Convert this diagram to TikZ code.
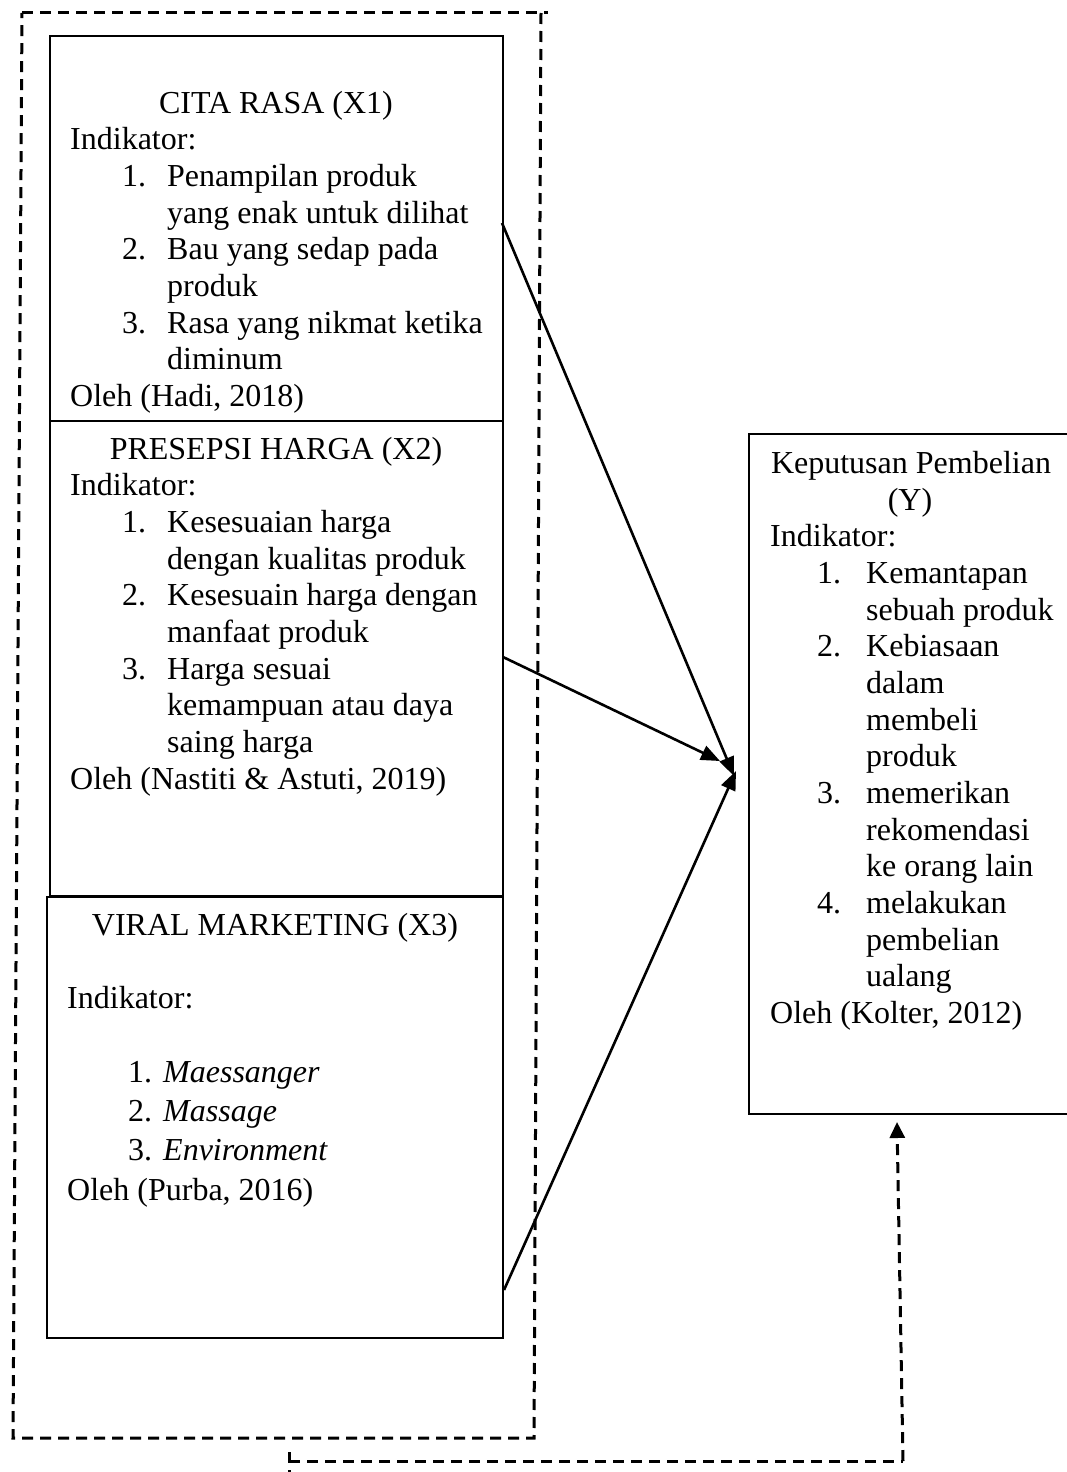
\documentclass[tikz,border=0pt]{standalone}
\usepackage{fontspec}
\setmainfont{Liberation Serif}
\usetikzlibrary{arrows.meta}
\tikzset{
  boxst/.style={draw, line width=2pt, inner sep=0pt, anchor=north west},
  txtst/.style={font=\fontsize{32}{36.7}\selectfont, inner sep=0pt, anchor=base west},
  titst/.style={font=\fontsize{32}{36.7}\selectfont, inner sep=0pt, anchor=base},
  arrst/.style={line width=2.6pt, -{Triangle[length=19pt,width=15pt]}},
  dashst/.style={line width=3pt, dash pattern=on 11pt off 7pt}
}
\begin{document}
\begin{tikzpicture}[x=1pt,y=-1pt]
\useasboundingbox (0,0) rectangle (1067,1472);
% boxes
\node[boxst, minimum width=453pt, minimum height=385pt] (x1) at (49,35) {};
\node[boxst, minimum width=453pt, minimum height=475pt] (x2) at (49,420) {};
\node[boxst, minimum width=456pt, minimum height=441pt] (x3) at (46,896) {};
\node[boxst, minimum width=330pt, minimum height=680pt] (y) at (748,433) {};
% X1 text
\node[titst] (x1t) at (276,113) {CITA RASA (X1)};
\node[txtst] (x1i) at (70,149.7) {Indikator:};
\node[txtst] (x1n1) at (122,186.3) {1.};
\node[txtst] (x1a) at (167,186.3) {Penampilan produk};
\node[txtst] (x1b) at (167,223) {yang enak untuk dilihat};
\node[txtst] (x1n2) at (122,259.7) {2.};
\node[txtst] (x1c) at (167,259.7) {Bau yang sedap pada};
\node[txtst] (x1d) at (167,296.3) {produk};
\node[txtst] (x1n3) at (122,333) {3.};
\node[txtst] (x1e) at (167,333) {Rasa yang nikmat ketika};
\node[txtst] (x1f) at (167,369.7) {diminum};
\node[txtst] (x1o) at (70,406.3) {Oleh (Hadi, 2018)};
% X2 text
\node[titst] (x2t) at (276,459) {PRESEPSI HARGA (X2)};
\node[txtst] (x2i) at (70,495.7) {Indikator:};
\node[txtst] (x2n1) at (122,532.3) {1.};
\node[txtst] (x2a) at (167,532.3) {Kesesuaian harga};
\node[txtst] (x2b) at (167,569) {dengan kualitas produk};
\node[txtst] (x2n2) at (122,605.7) {2.};
\node[txtst] (x2c) at (167,605.7) {Kesesuain harga dengan};
\node[txtst] (x2d) at (167,642.3) {manfaat produk};
\node[txtst] (x2n3) at (122,679) {3.};
\node[txtst] (x2e) at (167,679) {Harga sesuai};
\node[txtst] (x2f) at (167,715.7) {kemampuan atau daya};
\node[txtst] (x2g) at (167,752.3) {saing harga};
\node[txtst] (x2o) at (70,789) {Oleh (Nastiti \& Astuti, 2019)};
% X3 text
\node[titst] (x3t) at (275,935) {VIRAL MARKETING (X3)};
\node[txtst] (x3i) at (67,1008) {Indikator:};
\node[txtst] (x3n1) at (128,1082) {1.};
\node[txtst] (x3a) at (163,1082) {\itshape Maessanger};
\node[txtst] (x3n2) at (128,1121) {2.};
\node[txtst] (x3b) at (163,1121) {\itshape Massage};
\node[txtst] (x3n3) at (128,1160) {3.};
\node[txtst] (x3c) at (163,1160) {\itshape Environment};
\node[txtst] (x3o) at (67,1200) {Oleh (Purba, 2016)};
% Y text
\node[titst] (yt1) at (911,473.5) {Keputusan Pembelian};
\node[titst] (yt2) at (910,510.2) {(Y)};
\node[txtst] (yi) at (770,546.8) {Indikator:};
\node[txtst] (yn1) at (817,583.5) {1.};
\node[txtst] (ya) at (866,583.5) {Kemantapan};
\node[txtst] (yb) at (866,620.2) {sebuah produk};
\node[txtst] (yn2) at (817,656.8) {2.};
\node[txtst] (yc) at (866,656.8) {Kebiasaan};
\node[txtst] (yd) at (866,693.5) {dalam};
\node[txtst] (ye) at (866,730.2) {membeli};
\node[txtst] (yf) at (866,766.8) {produk};
\node[txtst] (yn3) at (817,803.5) {3.};
\node[txtst] (yg) at (866,803.5) {memerikan};
\node[txtst] (yh) at (866,840.2) {rekomendasi};
\node[txtst] (yj) at (866,876.8) {ke orang lain};
\node[txtst] (yn4) at (817,913.5) {4.};
\node[txtst] (yk) at (866,913.5) {melakukan};
\node[txtst] (yl) at (866,950.2) {pembelian};
\node[txtst] (ym) at (866,986.8) {ualang};
\node[txtst] (yo) at (770,1023.5) {Oleh (Kolter, 2012)};
% arrow end points
\coordinate (s1) at (502,223);
\coordinate (s2) at (503,657);
\coordinate (s3) at (504,1290);
\coordinate (e1) at (734,776);
\coordinate (e2) at (720,761);
\coordinate (e3) at (736,771);
\draw[arrst] (s1) -- (e1);
\draw[arrst] (s2) -- (e2);
\draw[arrst] (s3) -- (e3);
% dashed outer frame
\coordinate (d1) at (22,13);
\coordinate (d2) at (548,13);
\coordinate (d3) at (541,13);
\coordinate (d4) at (534,1438);
\coordinate (d5) at (13,1438);
\draw[dashst] (d1) -- (d2);
\draw[dashst] (d3) -- (d4) -- (d5) -- (d1);
% dashed link to Y
\coordinate (f1) at (289,1452);
\coordinate (f2) at (289,1480);
\coordinate (f3) at (289,1461);
\coordinate (f4) at (903,1461);
\coordinate (f5) at (897,1122);
\draw[dashst] (f1) -- (f2);
\draw[dashst] (f3) -- (f4);
\draw[dashst, -{Triangle[length=16pt,width=15pt]}] (f4) -- (f5);
\end{tikzpicture}
\end{document}
